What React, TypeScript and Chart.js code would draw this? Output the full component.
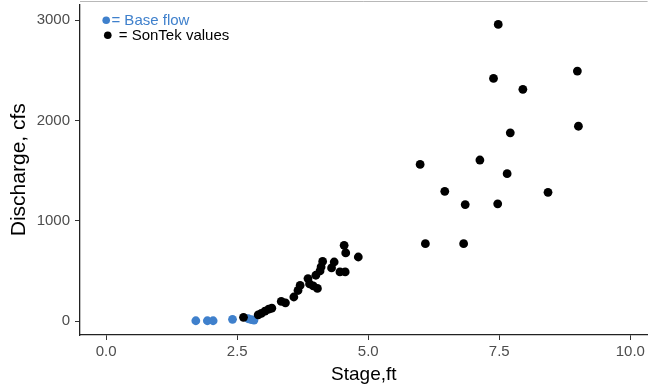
import React, { useEffect, useRef } from "react";
import { Chart, registerables } from "chart.js";
Chart.register(...registerables);

// Tick labels
const xTicks = [0, 2.5, 5, 7.5, 10];
const yTicks = [0, 1000, 2000, 3000];

// Base flow (blue)
const baseStage = [1.71, 1.93, 2.04, 2.41, 2.71, 2.77, 2.82];
const baseQ = [3, 3, 3, 17, 23, 15, 10];

// SonTek values (black)
const sontekStage = [
  2.62, 2.9, 2.96, 3.03, 3.1, 3.16, 3.34, 3.42, 3.58, 3.66, 3.7, 3.85, 3.88,
  3.95, 4.03, 4.0, 4.08, 4.1, 4.13, 4.3, 4.35, 4.46, 4.56, 4.54, 4.57, 4.81,
  7.48, 7.39, 8.99, 7.95, 7.71, 9.01, 5.99, 7.13, 7.65, 6.46, 6.85, 7.47, 8.43,
  6.09, 6.82,
];
const sontekQ = [
  37, 62, 76, 100, 118, 128, 196, 182, 240, 305, 355, 424, 370,
  350, 325, 457, 500, 540, 595, 530, 589, 490, 490, 755, 680, 639,
  2958, 2420, 2493, 2311, 1877, 1943, 1562, 1606, 1470, 1294, 1162, 1169, 1284,
  772, 772,
];

// Key annotation
const keyLabels = ["= Base flow", " = SonTek values"];
const keyDotStage = [0.0, 0.03];
const keyDotQ = [3000, 2850];
const keyTextStage = [0.1, 0.16];
const keyColors = ["#3f80cc", "#000000"];

const FONT = "'Liberation Sans', Arial, Helvetica, sans-serif";

export default function App() {
  const ref = useRef<HTMLCanvasElement>(null);
  useEffect(() => {
    const annot = {
      id: "annot",
      afterDraw(chart: any) {
        const { ctx, chartArea, scales } = chart;
        ctx.save();
        ctx.strokeStyle = "#b8b8b8";
        ctx.lineWidth = 1;
        ctx.beginPath();
        ctx.moveTo(chartArea.left, 1.5);
        ctx.lineTo(chartArea.right, 1.5);
        ctx.stroke();
        ctx.font = `15px ${FONT}`;
        ctx.textBaseline = "middle";
        ctx.textAlign = "left";
        keyLabels.forEach((t, i) => {
          ctx.fillStyle = keyColors[i];
          ctx.fillText(
            t,
            scales.x.getPixelForValue(keyTextStage[i]),
            scales.y.getPixelForValue(keyDotQ[i]) + 0.5
          );
        });
        ctx.restore();
      },
    };
    const chart = new Chart(ref.current as HTMLCanvasElement, {
      type: "scatter",
      data: {
        datasets: [
          {
            data: sontekStage.map((x, i) => ({ x, y: sontekQ[i] })),
            backgroundColor: "#000000",
            pointRadius: 4.4,
            borderWidth: 0,
          },
          {
            data: baseStage.map((x, i) => ({ x, y: baseQ[i] })),
            backgroundColor: "#3f80cc",
            pointRadius: 4.4,
            borderWidth: 0,
          },
          {
            data: keyDotStage.map((x, i) => ({ x, y: keyDotQ[i] })),
            backgroundColor: keyColors,
            pointRadius: 3.8,
            borderWidth: 0,
          },
        ],
      },
      options: {
        responsive: false,
        animation: false,
        devicePixelRatio: 1,
        layout: { padding: { top: 3, right: 0, left: 0, bottom: 0 } },
        plugins: { legend: { display: false }, tooltip: { enabled: false } },
        scales: {
          x: {
            type: "linear",
            min: -0.5,
            max: 10.33,
            afterBuildTicks: (s: any) => {
              s.ticks = xTicks.map((v) => ({ value: v }));
            },
            afterFit: (s: any) => {
              s.height = 52;
              s.paddingLeft = 0;
              s.paddingRight = 0;
            },
            ticks: {
              callback: (v: any) => Number(v).toFixed(1),
              color: "#4d4d4d",
              font: { family: FONT, size: 15 },
              padding: 3,
              maxRotation: 0,
              autoSkip: false,
            },
            grid: { drawOnChartArea: false, drawTicks: true, tickLength: 5, color: "#333333" },
            border: { display: true, color: "#222222", width: 1.3 },
            title: {
              display: true,
              text: "Stage,ft",
              color: "#000000",
              font: { family: FONT, size: 19 },
              padding: { top: 0, bottom: 1 },
            },
          },
          y: {
            type: "linear",
            min: -139,
            max: 3158,
            afterBuildTicks: (s: any) => {
              s.ticks = yTicks.map((v) => ({ value: v }));
            },
            afterFit: (s: any) => {
              s.width = 80;
              s.paddingTop = 0;
              s.paddingBottom = 0;
            },
            ticks: {
              callback: (v: any) => String(v),
              color: "#4d4d4d",
              font: { family: FONT, size: 15 },
              padding: 5,
              autoSkip: false,
            },
            grid: { drawOnChartArea: false, drawTicks: true, tickLength: 5, color: "#333333" },
            border: { display: true, color: "#222222", width: 1.3 },
            title: {
              display: true,
              text: "Discharge, cfs",
              color: "#000000",
              font: { family: FONT, size: 21 },
              padding: { top: 7, bottom: 0 },
            },
          },
        },
      },
      plugins: [annot],
    });
    return () => chart.destroy();
  }, []);
  return (
    <div style={{ position: "fixed", left: 0, top: 0, width: 652, height: 387, background: "#fff", overflow: "hidden" }}>
      <canvas ref={ref} width={652} height={387} style={{ width: 652, height: 387, display: "block" }} />
    </div>
  );
}
